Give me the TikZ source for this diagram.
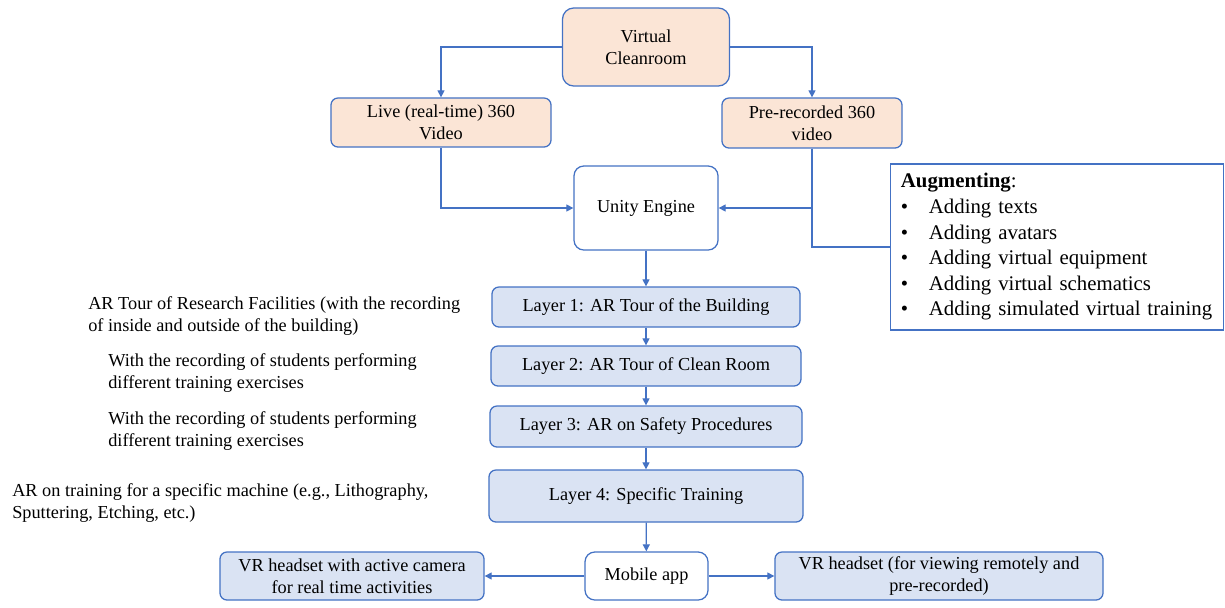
\documentclass[tikz,border=0pt]{standalone}
\usepackage{fontspec}
\setmainfont{Liberation Serif}
\usetikzlibrary{arrows.meta,positioning,calc}
\definecolor{edgeblue}{HTML}{4472C4}
\definecolor{peach}{HTML}{FBE5D6}
\definecolor{paleblue}{HTML}{DAE3F3}

\begin{document}
\begin{tikzpicture}[
        x=0.025cm, y=-0.025cm,
        base_box/.style={
            rectangle,
            rounded corners=5pt,
            draw=edgeblue,
            line width=0.9pt,
            align=center,
            inner sep=2pt,
            font=\fontsize{13}{15.6}\selectfont
        },
        peach_box/.style={base_box, fill=peach},
        layer_box/.style={base_box, fill=paleblue},
        white_box/.style={base_box, fill=white, rounded corners=7pt},
        note/.style={
            anchor=west,
            align=left,
            inner sep=0pt,
            font=\fontsize{13}{15.6}\selectfont
        },
        link/.style={
            draw=edgeblue,
            line width=0.9pt,
            -{Triangle[length=5pt,width=5pt]}
        },
        plain_link/.style={
            draw=edgeblue,
            line width=0.9pt
        }
    ]
        \useasboundingbox (0,0) rectangle (1225,607);

        % Sources
        \node[peach_box, minimum width=4.175cm, minimum height=1.95cm, rounded corners=8pt] (vclean) at (646,47) {Virtual\\Cleanroom};
        \node[peach_box, minimum width=5.5cm, minimum height=1.225cm] (live) at (441,122.5) {Live (real-time) 360\\Video};
        \node[peach_box, minimum width=4.5cm, minimum height=1.25cm] (prerec) at (812,123) {Pre-recorded 360\\video};
        \node[white_box, minimum width=3.6cm, minimum height=2.1cm] (unity) at (646,208) {Unity Engine};

        % Augmenting list
        \node[draw=edgeblue, line width=0.9pt, rectangle, text width=7.8cm, inner xsep=0.27cm,
              minimum height=4.15cm, align=left, font=\fontsize{14.8}{18.2}\selectfont] (aug) at (1057,247)
            {\textbf{Augmenting}:\\
             \makebox[0.7cm][l]{\textbullet}Adding texts\\
             \makebox[0.7cm][l]{\textbullet}Adding avatars\\
             \makebox[0.7cm][l]{\textbullet}Adding virtual equipment\\
             \makebox[0.7cm][l]{\textbullet}Adding virtual schematics\\
             \makebox[0.7cm][l]{\textbullet}Adding simulated virtual training};

        % Layers
        \node[layer_box, minimum width=7.7cm, minimum height=1.0cm] (layer1) at (646,307) {Layer 1: AR Tour of the Building};
        \node[layer_box, minimum width=7.75cm, minimum height=1.0cm] (layer2) at (646,366) {Layer 2: AR Tour of Clean Room};
        \node[layer_box, minimum width=7.8cm, minimum height=1.025cm] (layer3) at (646,426.5) {Layer 3: AR on Safety Procedures};
        \node[layer_box, minimum width=7.85cm, minimum height=1.3cm] (layer4) at (646,496) {Layer 4: Specific Training};

        % Outputs
        \node[white_box, minimum width=3.075cm, minimum height=1.2cm] (mobile) at (646.5,576) {Mobile app};
        \node[layer_box, minimum width=6.6cm, minimum height=1.2cm] (vrcam) at (352,576) {VR headset with active camera\\for real time activities};
        \node[layer_box, minimum width=8.2cm, minimum height=1.2cm] (vrremote) at (939,576) {VR headset (for viewing remotely and\\pre-recorded)};

        % Notes beside the layers
        \node[note] (note1) at (88,316) {AR Tour of Research Facilities (with the recording\\of inside and outside of the building)};
        \node[note] (note2) at (108,373) {With the recording of students performing\\different training exercises};
        \node[note] (note3) at (108,431) {With the recording of students performing\\different training exercises};
        \node[note] (note4) at (12,503) {AR on training for a specific machine (e.g., Lithography,\\Sputtering, Etching, etc.)};

        % Connectors
        \draw[link] (vclean.west) -| (live.north);
        \draw[link] (vclean.east) -| (prerec.north);
        \draw[link] (live.south) |- (unity.west);
        \draw[link] (prerec.south) |- (unity.east);
        \draw[plain_link] (prerec.south) |- (aug.west);
        \draw[link] (unity) -- (layer1);
        \draw[link] (layer1) -- (layer2);
        \draw[link] (layer2) -- (layer3);
        \draw[link] (layer3) -- (layer4);
        \draw[link] (layer4) -- (mobile);
        \draw[link] (mobile) -- (vrcam);
        \draw[link] (mobile) -- (vrremote);
    \end{tikzpicture}
\end{document}
